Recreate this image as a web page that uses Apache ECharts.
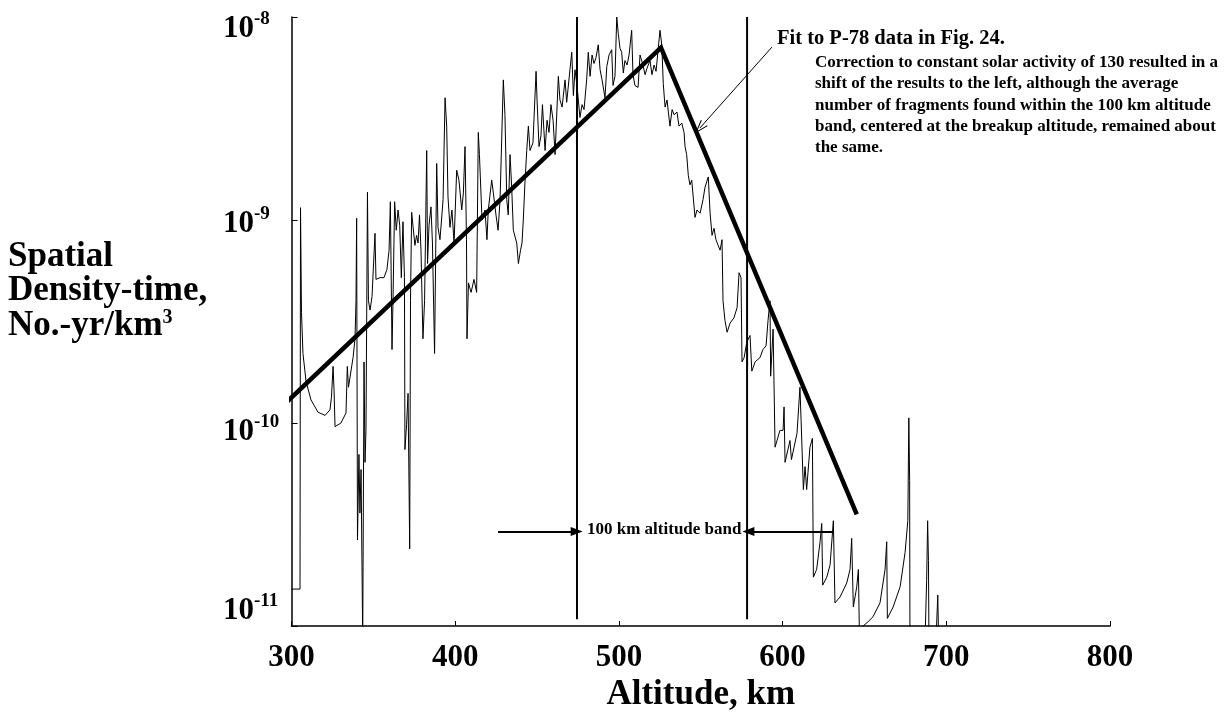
<!DOCTYPE html>
<html>
<head>
<meta charset="utf-8">
<script src="https://cdn.jsdelivr.net/npm/echarts@6/dist/echarts.min.js"></script>
<style>
  html, body { margin: 0; padding: 0; background: #ffffff; }
  #chart { width: 1230px; height: 714px; }
</style>
</head>
<body>
<div id="chart"></div>
<script>
// Spatial density-time profile of breakup fragments versus altitude
const altitudeKm = [
  300.0, 305.2, 305.5, 306.1, 307.0, 308.9, 311.9, 316.2, 320.5, 323.5,
  324.4, 325.4, 326.0, 326.6, 330.2, 333.3, 334.1, 334.8, 337.6, 338.8,
  339.4, 339.8, 340.3, 341.2, 341.8, 342.5, 343.5, 344.3, 344.9, 345.5,
  346.4, 347.0, 348.0, 349.2, 351.0, 351.6, 354.1, 356.5, 358.3, 359.6,
  360.4, 361.4, 362.0, 363.0, 364.0, 365.1, 366.1, 367.1, 368.1, 369.0,
  369.3, 370.3, 371.2, 372.2, 372.7, 373.4, 374.2, 375.4, 376.4, 377.3,
  378.2, 379.1, 380.3, 381.3, 382.6, 383.1, 384.0, 385.2, 386.1, 387.4,
  388.7, 389.5, 390.7, 392.6, 393.8, 394.8, 395.6, 396.8, 398.0, 399.3,
  400.9, 402.3, 404.0, 405.0, 406.0, 406.9, 407.2, 408.1, 409.7, 411.5,
  413.1, 414.1, 414.8, 416.4, 418.2, 419.4, 420.2, 422.3, 423.3, 424.9,
  426.2, 427.4, 429.4, 430.4, 431.5, 432.4, 433.5, 434.5, 435.5, 437.6,
  438.6, 439.9, 440.8, 441.6, 442.6, 443.7, 444.7, 445.7, 447.5, 449.4,
  450.0, 451.2, 452.4, 453.3, 454.9, 456.1, 457.3, 458.5, 459.8, 461.0,
  463.0, 464.0, 465.3, 467.1, 468.1, 470.1, 471.2, 472.2, 473.2, 474.4,
  476.2, 477.5, 478.7, 480.3, 481.3, 482.4, 483.6, 484.8, 486.0, 487.4,
  488.5, 489.7, 491.5, 492.6, 494.0, 495.6, 496.4, 497.6, 498.7, 499.6,
  500.7, 501.7, 502.7, 503.7, 505.0, 506.2, 507.8, 508.6, 509.8, 511.7,
  512.9, 514.7, 516.0, 517.2, 519.0, 520.2, 521.5, 522.7, 523.9, 525.1,
  526.2, 527.1, 528.2, 529.4, 531.2, 532.5, 533.7, 535.5, 536.7, 538.4,
  539.8, 540.4, 541.4, 542.4, 543.4, 544.5, 545.5, 546.5, 547.7, 549.6,
  551.4, 552.6, 554.6, 555.7, 556.9, 558.1, 559.3, 560.6, 561.8, 563.0,
  563.6, 564.8, 566.1, 567.9, 570.3, 572.2, 573.4, 574.6, 575.2, 576.5,
  578.1, 580.1, 581.2, 583.2, 586.2, 588.0, 589.9, 591.1, 592.3, 592.7,
  594.2, 595.4, 596.6, 598.4, 600.3, 600.9, 601.5, 602.7, 604.5, 605.4,
  607.0, 608.8, 609.6, 610.6, 611.3, 612.7, 613.7, 614.7, 616.7, 618.2,
  618.8, 620.8, 622.9, 623.9, 624.5, 627.0, 629.0, 631.0, 632.0, 635.1,
  639.2, 641.2, 642.2, 643.2, 645.3, 646.3, 646.9, 649.2, 652.2, 655.2,
  659.5, 662.6, 663.6, 664.0, 667.5, 671.8, 674.8, 676.5, 677.1, 677.6,
  677.8, 687.0, 688.0, 688.6, 689.1, 689.4, 693.7, 694.8, 695.3
];

const densityTime = [
  1.52e-11, 1.52e-11, 1.15e-9, 3.5e-10, 2.2e-10, 1.6e-10, 1.3e-10, 1.13e-10, 1.09e-10, 1.16e-10,
  1.34e-10, 1.9e-10, 1.45e-10, 9.6e-11, 1.0e-10, 1.12e-10, 1.9e-10, 1.5e-10, 2.1e-10, 2.6e-10,
  4.0e-10, 1.02e-9, 2.65e-11, 7.0e-11, 3.6e-11, 5.9e-11, 8.5e-12, 2.0e-10, 6.4e-11, 9.2e-11,
  1.37e-9, 4.0e-10, 3.6e-10, 4.2e-10, 8.6e-10, 5.1e-10, 5.2e-10, 5.2e-10, 5.7e-10, 7.1e-10,
  1.23e-9, 2.3e-10, 4.0e-10, 1.23e-9, 8.9e-10, 1.12e-9, 9.4e-10, 5.2e-10, 9.8e-10, 5.2e-10,
  7.4e-11, 9.8e-11, 1.4e-10, 2.4e-11, 4.0e-10, 1.09e-9, 1.08e-9, 7.5e-10, 8.4e-10, 7.7e-10,
  1.06e-9, 7.1e-10, 2.6e-10, 4.0e-10, 2.2e-9, 6.1e-10, 9.4e-10, 1.16e-9, 7.7e-10, 2.2e-10,
  1.9e-9, 9.2e-10, 8.0e-10, 1.26e-9, 4.0e-9, 2.9e-9, 1.3e-9, 9.2e-10, 1.12e-9, 7.7e-10,
  1.76e-9, 1.57e-9, 1.12e-9, 1.36e-9, 2.3e-9, 8.0e-10, 2.6e-10, 4.9e-10, 4.4e-10, 5.1e-10,
  4.4e-10, 2.7e-9, 2.1e-9, 1.0e-9, 1.12e-9, 8.0e-10, 1.12e-9, 1.57e-9, 1.36e-9, 1.06e-9,
  8.9e-10, 1.26e-9, 4.9e-9, 3.3e-9, 1.26e-9, 1.06e-9, 2.1e-9, 1.45e-9, 8.9e-10, 7.7e-10,
  6.1e-10, 7.1e-10, 7.7e-10, 1.0e-9, 1.52e-9, 2.2e-9, 2.9e-9, 2.2e-9, 2.4e-9, 5.4e-9,
  3.9e-9, 2.3e-9, 2.6e-9, 3.7e-9, 2.2e-9, 3.1e-9, 2.7e-9, 3.7e-9, 3.1e-9, 2.1e-9,
  5.1e-9, 3.9e-9, 3.6e-9, 4.9e-9, 3.8e-9, 5.5e-9, 6.7e-9, 4.1e-9, 5.5e-9, 4.6e-9,
  3.2e-9, 3.7e-9, 3.5e-9, 4.9e-9, 6.7e-9, 5.1e-9, 6.5e-9, 5.9e-9, 6.3e-9, 7.3e-9,
  5.5e-9, 4.9e-9, 4.0e-9, 5.7e-9, 6.5e-9, 6.9e-9, 4.6e-9, 5.1e-9, 1.0e-8, 8.3e-9,
  7.0e-9, 6.7e-9, 5.3e-9, 6.1e-9, 5.8e-9, 6.5e-9, 8.6e-9, 5.2e-9, 4.6e-9, 4.5e-9,
  6.5e-9, 5.8e-9, 5.2e-9, 5.6e-9, 6.1e-9, 5.2e-9, 5.8e-9, 5.4e-9, 5.5e-9, 8.6e-9,
  7.3e-9, 4.7e-9, 3.6e-9, 3.9e-9, 2.9e-9, 3.5e-9, 3.3e-9, 3.4e-9, 2.9e-9, 3.0e-9,
  2.7e-9, 2.3e-9, 2.1e-9, 1.66e-9, 1.49e-9, 1.57e-9, 1.57e-9, 1.03e-9, 1.12e-9, 1.08e-9,
  1.26e-9, 1.45e-9, 1.63e-9, 1.08e-9, 8.4e-10, 9.1e-10, 8.0e-10, 7.5e-10, 7.1e-10, 8.0e-10,
  4.0e-10, 3.2e-10, 2.8e-10, 3.1e-10, 3.3e-10, 3.7e-10, 5.5e-10, 5.2e-10, 2.0e-10, 2.1e-10,
  2.5e-10, 2.7e-10, 1.8e-10, 2.0e-10, 2.1e-10, 2.3e-10, 2.4e-10, 3.2e-10, 4.0e-10, 1.7e-10,
  2.9e-10, 7.6e-11, 7.6e-11, 9.2e-11, 9.2e-11, 1.2e-10, 6.4e-11, 6.4e-11, 8.2e-11, 6.6e-11,
  7.6e-11, 8.9e-11, 8.9e-11, 1.5e-10, 1.03e-10, 4.7e-11, 6.1e-11, 4.7e-11, 7.6e-11, 8.4e-11,
  1.74e-11, 1.9e-11, 2.6e-11, 3.2e-11, 1.59e-11, 1.74e-11, 2.0e-11, 3.3e-11, 1.3e-11, 1.39e-11,
  1.63e-11, 1.9e-11, 2.7e-11, 1.24e-11, 1.56e-11, 1.9e-11, 9.3e-12, 1.0e-11, 1.05e-11, 1.11e-11,
  1.3e-11, 1.9e-11, 2.6e-11, 1.09e-11, 1.24e-11, 1.56e-11, 2.3e-11, 3.3e-11, 1.06e-10, 5.2e-11,
  8.5e-12, 8.5e-12, 1.68e-11, 3.3e-11, 2.1e-11, 8.5e-12, 8.5e-12, 1.42e-11, 8.5e-12
];

// Two-segment fit to the P-78 data
const fitAltitudeKm = [297.1, 525.7, 645.3];
const fitDensity = [1.27e-10, 7.06e-9, 3.55e-11];

// 100 km altitude band edges and its arrows
const bandEdgesKm = [474.4, 578.3];
const bandLineDensity = [1.0e-8, 1.08e-11];
const bandArrowDensity = 2.92e-11;
const bandArrowLeftKm = [426.2, 474.2];
const bandArrowRightKm = [631.0, 579.1];

// Pointer from the fit caption to the fit line
const pointerAltitudeKm = [593.5, 549.5];
const pointerDensity = [7.11e-9, 2.84e-9];

const xTickValues = [300, 400, 500, 600, 700, 800];

const SERIF = '"Liberation Serif", "Times New Roman", serif';

const curve = altitudeKm.map((a, i) => [a, densityTime[i]]);
const fit = fitAltitudeKm.map((a, i) => [a, fitDensity[i]]);

const chevron = 'path://M0,0 L5,10 L4,10.6 L0,2.2 L-4,10.6 L-5,10 Z';

const bandSeries = bandEdgesKm.map((x) => ({
  type: 'line',
  data: [[x, bandLineDensity[0]], [x, bandLineDensity[1]]],
  showSymbol: false,
  silent: true,
  clip: false,
  lineStyle: { color: '#000', width: 2 },
  z: 3
}));

const option = {
  animation: false,
  backgroundColor: '#ffffff',
  grid: {
    left: 291.5, right: 120, top: 17, bottom: 88,
    containLabel: false,
    outerBoundsMode: 'none'
  },
  xAxis: {
    type: 'value',
    min: xTickValues[0],
    max: xTickValues[xTickValues.length - 1],
    interval: 100,
    name: 'Altitude, km',
    nameLocation: 'middle',
    nameGap: 46,
    nameTextStyle: { fontFamily: SERIF, fontWeight: 'bold', fontSize: 35, color: '#000' },
    axisLine: { show: true, onZero: false, lineStyle: { color: '#000', width: 1.5 } },
    axisTick: { show: true, inside: true, length: 5, lineStyle: { color: '#000', width: 1 } },
    axisLabel: { fontFamily: SERIF, fontWeight: 'bold', fontSize: 31, color: '#000', margin: 16 },
    splitLine: { show: false }
  },
  yAxis: {
    type: 'log',
    logBase: 10,
    min: 1e-11,
    max: 1e-8,
    axisLine: { show: true, onZero: false, lineStyle: { color: '#000', width: 1.5 } },
    axisTick: { show: true, inside: true, length: 6, lineStyle: { color: '#000', width: 1 } },
    splitLine: { show: false },
    axisLabel: {
      align: 'left',
      margin: 68.5,
      formatter: function (v) {
        const e = Math.round(Math.log10(v));
        const main = '{b|10}{s|' + e + '}';
        if (e === -8) return '{g23| }\n' + main;
        if (e === -9) return '{g8| }\n' + main;
        if (e === -10) return '{g18| }\n' + main;
        return main + '\n{g30| }';
      },
      rich: {
        b: { fontFamily: SERIF, fontWeight: 'bold', fontSize: 31, lineHeight: 38, color: '#000' },
        s: { fontFamily: SERIF, fontWeight: 'bold', fontSize: 19, lineHeight: 14, verticalAlign: 'top', color: '#000' },
        g8: { fontSize: 1, lineHeight: 8 },
        g18: { fontSize: 1, lineHeight: 18 },
        g23: { fontSize: 1, lineHeight: 23 },
        g30: { fontSize: 1, lineHeight: 30 }
      }
    }
  },
  series: [
    {
      name: 'density-time',
      type: 'line',
      data: curve,
      showSymbol: false,
      silent: true,
      lineStyle: { color: '#000', width: 1 },
      z: 2,
      markLine: {
        silent: true,
        animation: false,
        label: { show: false },
        emphasis: { disabled: true },
        lineStyle: { color: '#000', type: 'solid' },
        data: [
          [
            { coord: [bandArrowLeftKm[0], bandArrowDensity], symbol: 'none', lineStyle: { width: 2 } },
            { coord: [bandArrowLeftKm[1], bandArrowDensity], symbol: 'triangle', symbolSize: [9, 12] }
          ],
          [
            { coord: [bandArrowRightKm[0], bandArrowDensity], symbol: 'none', lineStyle: { width: 2 } },
            { coord: [bandArrowRightKm[1], bandArrowDensity], symbol: 'triangle', symbolSize: [9, 12] }
          ],
          [
            { coord: [pointerAltitudeKm[0], pointerDensity[0]], symbol: 'none', lineStyle: { width: 1 } },
            { coord: [pointerAltitudeKm[1], pointerDensity[1]], symbol: chevron, symbolSize: [9, 14] }
          ]
        ]
      }
    },
    ...bandSeries,
    {
      name: 'fit',
      type: 'line',
      data: fit,
      showSymbol: false,
      silent: true,
      clip: false,
      lineStyle: { color: '#000', width: 4.5, cap: 'butt', join: 'miter' },
      z: 4
    }
  ],
  graphic: [
    {
      type: 'text',
      left: 8,
      top: 239,
      silent: true,
      style: {
        text: 'Spatial\nDensity-time,\nNo.-yr/km{sup|3}',
        fontFamily: SERIF,
        fontWeight: 'bold',
        fontSize: 35,
        lineHeight: 34.5,
        fill: '#000',
        rich: {
          sup: { fontFamily: SERIF, fontWeight: 'bold', fontSize: 20, lineHeight: 14, verticalAlign: 'top', fill: '#000' }
        }
      }
    },
    {
      type: 'text',
      left: 777,
      top: 28,
      silent: true,
      style: {
        text: 'Fit to P-78 data in Fig. 24.',
        fontFamily: SERIF,
        fontWeight: 'bold',
        fontSize: 20.5,
        fill: '#000'
      }
    },
    {
      type: 'text',
      left: 815,
      top: 52,
      silent: true,
      style: {
        text: 'Correction to constant solar activity of 130 resulted in a\n' +
              'shift of the results to the left, although the average\n' +
              'number of fragments found within the 100 km altitude\n' +
              'band, centered at the breakup altitude, remained about\n' +
              'the same.',
        fontFamily: SERIF,
        fontWeight: 'bold',
        fontSize: 17,
        lineHeight: 21.3,
        fill: '#000'
      }
    },
    {
      type: 'text',
      left: 587,
      top: 521,
      silent: true,
      style: {
        text: '100 km altitude band',
        fontFamily: SERIF,
        fontWeight: 'bold',
        fontSize: 17,
        fill: '#000'
      }
    }
  ]
};

const chart = echarts.init(document.getElementById('chart'), null, { renderer: 'canvas' });
chart.setOption(option);
</script>
</body>
</html>
